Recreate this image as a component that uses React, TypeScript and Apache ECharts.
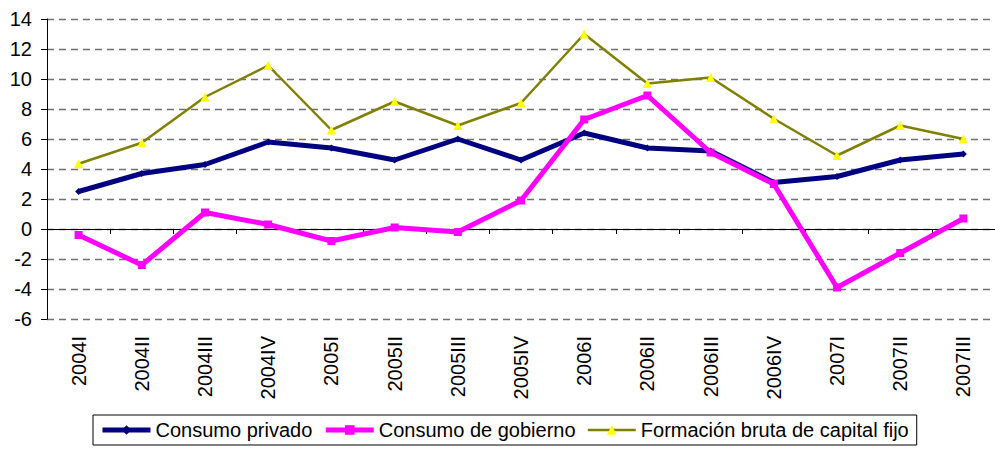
import React, { useEffect, useRef } from "react";
import * as echarts from "echarts";

const categories = [
  "2004I", "2004II", "2004III", "2004IV",
  "2005I", "2005II", "2005III", "2005IV",
  "2006I", "2006II", "2006III", "2006IV",
  "2007I", "2007II", "2007III",
];

const consumoPrivado = [2.5, 3.7, 4.3, 5.8, 5.4, 4.6, 6.0, 4.6, 6.4, 5.4, 5.2, 3.1, 3.5, 4.6, 5.0];
const consumoGobierno = [-0.4, -2.4, 1.1, 0.3, -0.8, 0.1, -0.2, 1.9, 7.3, 8.9, 5.1, 3.0, -3.9, -1.6, 0.7];
const formacionBruta = [4.35, 5.75, 8.8, 10.9, 6.6, 8.5, 6.9, 8.4, 13.0, 9.7, 10.1, 7.35, 4.9, 6.9, 6.0];

const seriesNames = ["Consumo privado", "Consumo de gobierno", "Formación bruta de capital fijo"];

const FONT = "'Liberation Sans', Arial, sans-serif";

export default function App() {
  const ref = useRef<HTMLDivElement>(null);

  useEffect(() => {
    if (!ref.current) return;
    const chart = echarts.init(ref.current, null, { renderer: "svg" });
    chart.setOption({
      animation: false,
      backgroundColor: "#ffffff",
      textStyle: { fontFamily: FONT },
      grid: { left: 47, top: 19, width: 954, height: 300, containLabel: false },
      legend: {
        left: 93,
        top: 415,
        padding: [5, 8, 5, 7],
        borderColor: "#000",
        borderWidth: 1,
        itemGap: 11,
        itemWidth: 48,
        itemHeight: 12,
        textStyle: { fontSize: 20, color: "#000", fontFamily: FONT },
        data: [
          { name: seriesNames[0], lineStyle: { width: 5 } },
          { name: seriesNames[1], lineStyle: { width: 5 } },
          { name: seriesNames[2], lineStyle: { width: 2.5 } },
        ],
      },
      xAxis: [
        {
          type: "category",
          data: categories,
          boundaryGap: true,
          axisLine: { show: false, onZero: false },
          axisTick: { show: false },
          axisLabel: {
            rotate: 90,
            interval: 0,
            fontSize: 20,
            color: "#000",
            fontFamily: FONT,
            margin: 17,
          },
          splitLine: { show: false },
        },
        {
          type: "category",
          data: categories,
          position: "bottom",
          boundaryGap: true,
          axisLine: { show: true, onZero: true, lineStyle: { color: "#000", width: 1 } },
          axisTick: { show: true, length: 5, inside: false, lineStyle: { color: "#000" } },
          axisLabel: { show: false },
          splitLine: { show: false },
        },
      ],
      yAxis: {
        type: "value",
        min: -6,
        max: 14,
        interval: 2,
        axisLine: { show: true, onZero: false, lineStyle: { color: "#000", width: 1 } },
        axisTick: { show: true, length: 6, lineStyle: { color: "#000" } },
        axisLabel: { fontSize: 20, color: "#000", fontFamily: FONT, margin: 15 },
        splitLine: {
          show: true,
          lineStyle: { color: "#707070", width: 1.3, type: [7, 5] },
        },
      },
      series: [
        {
          name: seriesNames[0],
          type: "line",
          data: consumoPrivado,
          symbol: "diamond",
          symbolSize: 7,
          lineStyle: { color: "#000080", width: 5 },
          itemStyle: { color: "#000080" },
        },
        {
          name: seriesNames[1],
          type: "line",
          data: consumoGobierno,
          symbol: "rect",
          symbolSize: 8,
          lineStyle: { color: "#FF00FF", width: 5 },
          itemStyle: { color: "#FF00FF" },
        },
        {
          name: seriesNames[2],
          type: "line",
          data: formacionBruta,
          symbol: "triangle",
          symbolSize: 9,
          lineStyle: { color: "#808000", width: 2.5 },
          itemStyle: { color: "#FFFF00" },
        },
      ],
    });
    return () => chart.dispose();
  }, []);

  return (
    <div
      ref={ref}
      style={{ position: "fixed", left: 0, top: 0, width: 995, height: 450 }}
    />
  );
}
